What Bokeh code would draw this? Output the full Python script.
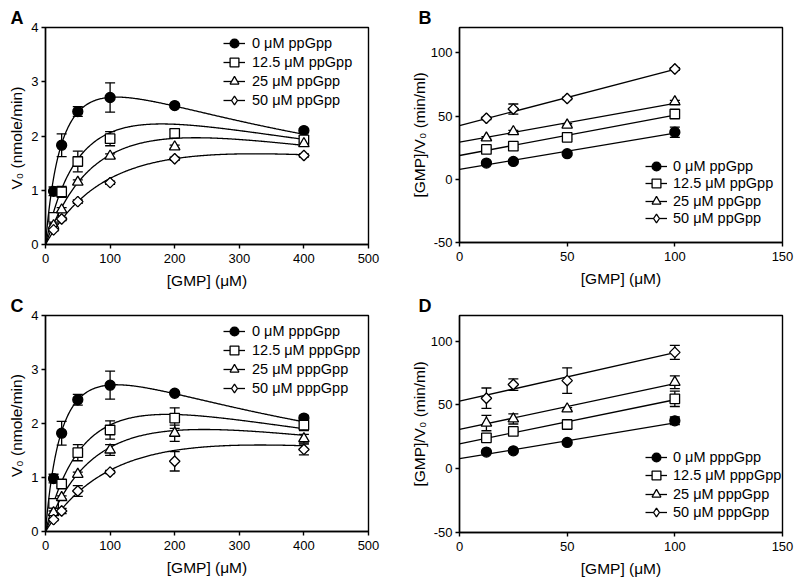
import numpy as np
from bokeh.plotting import figure
from bokeh.layouts import column, row
from bokeh.models import (ColumnDataSource, Whisker, TeeHead, Legend, LegendItem,
                          Range1d, FixedTicker)
from bokeh.embed import file_html
from bokeh.resources import INLINE

FONT = "Liberation Sans"

# ---- data -----------------------------------------------------------------
gmp_mm = [12.5, 25, 50, 100, 200, 400]
gmp_hw = [12.5, 25, 50, 100]
conc_labels = ["0 μM", "12.5 μM", "25 μM", "50 μM"]
markers = ["circle", "square", "triangle", "diamond"]

# panel A : V0 vs [GMP], ppGpp
a_v0 = [[0.98, 1.83, 2.45, 2.71, 2.56, 2.10],
        [0.50, 0.97, 1.53, 1.95, 2.05, 1.93],
        [0.35, 0.64, 1.15, 1.63, 1.80, 1.86],
        [0.27, 0.47, 0.79, 1.14, 1.58, 1.64]]
a_err = [[0.08, 0.21, 0.09, 0.27, 0.03, 0.03],
         [0.05, 0.10, 0.19, 0.13, 0.07, 0.06],
         [0.03, 0.04, 0.04, 0.04, 0.03, 0.03],
         [0.02, 0.03, 0.03, 0.03, 0.03, 0.03]]
# substrate inhibition fit: Vmax, Km, Ki
a_vmax = [4.20, 3.95, 4.00, 3.22]
a_km = [30, 70, 120, 150]
a_ki = [403, 463, 450, 700]

# panel C : V0 vs [GMP], pppGpp
c_v0 = [[0.98, 1.82, 2.44, 2.71, 2.56, 2.10],
        [0.52, 0.88, 1.46, 1.88, 2.10, 1.97],
        [0.35, 0.63, 1.06, 1.51, 1.82, 1.72],
        [0.22, 0.38, 0.75, 1.10, 1.30, 1.52]]
c_err = [[0.08, 0.22, 0.10, 0.26, 0.03, 0.05],
         [0.08, 0.05, 0.15, 0.17, 0.19, 0.10],
         [0.03, 0.03, 0.04, 0.10, 0.15, 0.08],
         [0.02, 0.05, 0.10, 0.03, 0.18, 0.10]]
c_vmax = [4.20, 4.12, 3.74, 3.24]
c_km = [30, 85, 120, 170]
c_ki = [403, 420, 500, 650]

# panel B : Hanes-Woolf, ppGpp
b_sv = [[12.8, 14.1, 20.2, 37.2],
        [23.6, 26.2, 33.2, 51.6],
        [32.7, 37.7, 42.9, 61.3],
        [48.2, 55.5, 63.9, 87.2]]
b_err = [[1.0, 1.0, 1.0, 4.0],
         [1.0, 1.0, 1.5, 2.0],
         [1.0, 1.0, 1.0, 1.0],
         [1.0, 4.0, 1.0, 1.0]]
b_icpt = [7.9, 18.8, 29.3, 42.4]
b_slope = [0.285, 0.32, 0.307, 0.445]

# panel D : Hanes-Woolf, pppGpp
d_sv = [[13.0, 14.0, 20.6, 37.5],
        [24.2, 29.2, 34.6, 54.7],
        [35.7, 39.0, 46.9, 67.7],
        [55.2, 65.9, 69.0, 91.1]]
d_err = [[1.0, 1.0, 1.0, 3.0],
         [1.0, 1.0, 3.0, 6.0],
         [6.0, 4.0, 1.0, 5.0],
         [8.0, 4.5, 10.0, 5.5]]
d_icpt = [7.8, 19.5, 30.7, 52.9]
d_slope = [0.28, 0.345, 0.36, 0.38]

ROW_H = 293
GLYPH = 22


def make_fig(letter, x_end, xticks, y_start, y_end, yticks, ylabel,
             fh, mt, ml, mr, ylab_standoff):
    p = figure(frame_width=323, frame_height=fh,
               min_border_top=mt, min_border_bottom=ROW_H - mt - fh,
               min_border_left=ml, min_border_right=mr,
               x_range=Range1d(0, x_end), y_range=Range1d(y_start, y_end),
               output_backend="svg", toolbar_location=None)
    p.title.text = letter
    p.title.align = "left"
    p.title.offset = -35 if ml < 50 else -41
    p.title.standoff = 0
    p.title.text_font = FONT
    p.title.text_font_size = "18px"
    p.title.text_font_style = "bold"
    p.title.text_color = "black"
    p.grid.visible = False
    p.outline_line_color = "black"
    p.outline_line_width = 1.4
    p.outline_line_alpha = 1
    p.xaxis.ticker = FixedTicker(ticks=xticks)
    p.yaxis.ticker = FixedTicker(ticks=yticks)
    p.yaxis.major_label_overrides = {t: str(t) for t in yticks}
    p.axis.axis_line_width = 1.4
    p.axis.major_tick_line_width = 1.4
    p.axis.major_tick_out = 4
    p.axis.major_tick_in = 0
    p.axis.minor_tick_line_color = None
    p.axis.major_label_text_font = FONT
    p.axis.major_label_text_font_size = "13px"
    p.axis.major_label_text_color = "black"
    p.xaxis.major_label_standoff = 5
    p.yaxis.major_label_standoff = 3
    p.axis.axis_label_text_font = FONT
    p.axis.axis_label_text_font_size = "15.5px"
    p.axis.axis_label_text_font_style = "normal"
    p.axis.axis_label_text_color = "black"
    p.xaxis.axis_label = "[GMP] (μM)"
    p.xaxis.axis_label_standoff = 6
    p.yaxis.axis_label = ylabel
    p.yaxis.axis_label_standoff = ylab_standoff
    return p


def add_series(p, xs, ys, errs, curve_x, curve_y, marker):
    src = ColumnDataSource(dict(x=xs, y=ys,
                                lo=[v - e for v, e in zip(ys, errs)],
                                hi=[v + e for v, e in zip(ys, errs)]))
    w = Whisker(base="x", lower="lo", upper="hi", source=src, dimension="height",
                line_color="black", line_width=1.3, level="underlay",
                upper_head=TeeHead(size=10, line_width=1.3, line_color="black"),
                lower_head=TeeHead(size=10, line_width=1.3, line_color="black"))
    p.add_layout(w)
    lr = p.line(curve_x, curve_y, line_color="black", line_width=1.3)
    fill = "black" if marker == "circle" else "white"
    if marker == "diamond":
        # narrow diamond only shows in the key; the rotated square drawn on top
        # of it is the marker seen in the plot
        sr = p.scatter("x", "y", source=src, marker="diamond", size=10,
                       fill_color=fill, line_color="black", line_width=1.3)
        p.scatter("x", "y", source=src, marker="square", angle=np.pi / 4,
                  size=7.4, fill_color=fill, line_color="black", line_width=1.3)
    else:
        size = {"circle": 10, "square": 9.5, "triangle": 10.5}[marker]
        sr = p.scatter("x", "y", source=src, marker=marker, size=size,
                       fill_color=fill, line_color="black", line_width=1.3)
    return [lr, sr]


def add_key(p, renderers, labels, x, first_row, pitch, standoff):
    # one single-row legend per entry, so rows can sit closer than the glyph box
    for i, (rs, lab) in enumerate(zip(renderers, labels)):
        leg = Legend(items=[LegendItem(label=lab, renderers=rs)],
                     location=(x, first_row - i * pitch - GLYPH / 2),
                     glyph_width=GLYPH, glyph_height=GLYPH, label_height=GLYPH,
                     spacing=0, padding=0, margin=0, label_standoff=standoff,
                     label_text_font=FONT, label_text_font_size="14.5px",
                     label_text_color="black", border_line_color=None,
                     background_fill_alpha=0)
        p.add_layout(leg, "center")


s_curve = np.linspace(0, 400, 300)


def mm_panel(letter, v0, err, vmax, km, ki, drug, fh, mt, first_row, pitch):
    p = make_fig(letter, 500, [0, 100, 200, 300, 400, 500], 0, 4, [0, 1, 2, 3, 4],
                 "V₀  (nmole/min)", fh, mt, 45, 32, 3)
    rends = []
    for i in range(4):
        cy = vmax[i] * s_curve / (km[i] + s_curve + s_curve ** 2 / ki[i])
        rends.append(add_series(p, gmp_mm, v0[i], err[i], s_curve, cy, markers[i]))
    add_key(p, rends, [f"{c} {drug}" for c in conc_labels], 178, first_row, pitch, 7)
    return p


def hw_panel(letter, sv, err, icpt, slope, drug, fh, mt, first_row, pitch):
    p = make_fig(letter, 150, [0, 50, 100, 150], -50, 120, [-50, 0, 50, 100],
                 "[GMP]/V₀ (min/ml)", fh, mt, 59, 18, 0)
    rends = []
    lx = np.array([0, 100])
    for i in range(4):
        ly = icpt[i] + slope[i] * lx
        rends.append(add_series(p, gmp_hw, sv[i], err[i], lx, ly, markers[i]))
    add_key(p, rends, [f"{c} {drug}" for c in conc_labels], 186, first_row, pitch, 6)
    return p


pa = mm_panel("A", a_v0, a_err, a_vmax, a_km, a_ki, "ppGpp", 217, 26, 201, 19.1)
pb = hw_panel("B", b_sv, b_err, b_icpt, b_slope, "ppGpp", 215, 27, 76, 17.4)
pc = mm_panel("C", c_v0, c_err, c_vmax, c_km, c_ki, "pppGpp", 216, 20, 200, 18.9)
pd = hw_panel("D", d_sv, d_err, d_icpt, d_slope, "pppGpp", 217, 20, 75, 18.3)

layout = column(row(pa, pb), row(pc, pd))
open("out.html", "w").write(file_html(layout, INLINE))
